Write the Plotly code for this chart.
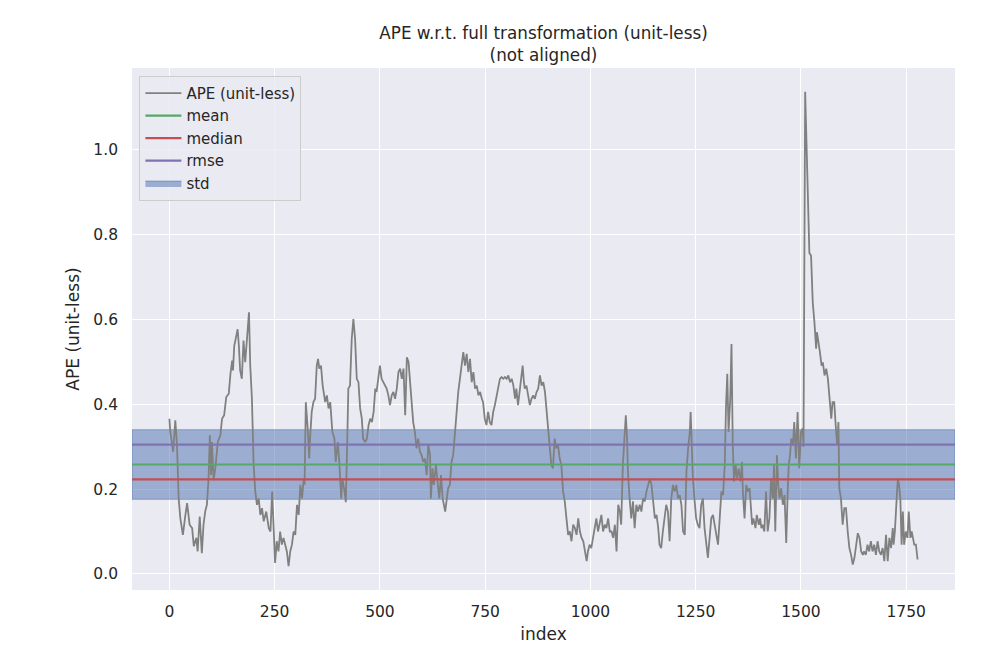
import plotly.graph_objects as go

# APE values (index, value)
index_pts = [
    0, 2, 9, 14, 18, 22, 26, 32, 38, 42, 48, 54, 58, 64, 67, 72, 77, 81, 85, 89,
    93, 96, 99, 101, 105, 109, 115, 121, 125, 130, 135, 141, 145, 149, 151, 154, 159, 162, 165, 168,
    172, 176, 180, 184, 189, 192, 196, 200, 204, 208, 212, 216, 220, 224, 230, 236, 240, 244, 247, 251,
    255, 259, 263, 267, 271, 275, 279, 283, 287, 291, 295,
    299, 303, 307, 311, 315, 319, 321, 324, 329, 332, 334, 338, 342, 346, 350, 353, 356, 360, 364, 367,
    370, 374, 378, 382, 384, 387, 392, 395, 400, 403, 408, 411, 416, 419, 422, 425, 429, 433, 437, 441,
    445, 449, 453, 457, 460, 465, 469, 473, 477, 481, 485, 489, 492, 496, 500, 504, 508, 512, 516, 520,
    524, 528, 532, 536, 540, 544, 548, 552, 556, 560, 564, 568, 572, 576, 579, 583, 587, 591, 595, 599,
    603, 607, 611, 615,
    619, 621, 625, 628, 633, 636, 641, 645, 649, 655, 658, 662, 666, 670, 674, 678, 682, 686, 690, 694,
    698, 702, 706, 710, 714, 718, 722, 726, 730, 734, 738, 742, 745, 749, 753, 757, 761, 765, 769, 773,
    777, 781, 785, 789, 793, 797, 801, 805, 809, 813, 817, 821, 824, 828, 832, 836, 839, 842, 844, 848,
    852, 856, 860, 864, 868, 872, 876, 880, 884, 888, 892, 896, 900, 903, 907, 911, 915, 919, 923, 927,
    931, 935,
    939, 943, 947, 951, 955, 959, 963, 967, 971, 975, 979, 983, 987, 991, 994, 998, 1002, 1006, 1010, 1014,
    1018, 1022, 1026, 1030, 1034, 1038, 1042, 1046, 1050, 1054, 1058, 1062, 1066, 1070, 1073, 1077, 1081, 1084, 1087, 1089,
    1093, 1097, 1101, 1105, 1109, 1113, 1117, 1121, 1125, 1129, 1133, 1137, 1141, 1145, 1149, 1153, 1157, 1161, 1164, 1168,
    1172, 1176, 1180, 1184, 1188, 1192, 1196, 1200, 1204, 1208, 1212, 1216, 1220, 1224, 1228, 1232, 1236, 1238, 1241, 1243,
    1247, 1251, 1255, 1259, 1263, 1267,
    1271, 1275, 1279, 1283, 1287, 1291, 1295, 1299, 1303, 1307, 1311, 1315, 1319, 1322, 1325, 1328, 1332, 1335, 1338, 1341,
    1345, 1348, 1352, 1356, 1360, 1362, 1366, 1370, 1374, 1378, 1382, 1384, 1387, 1392, 1395, 1400, 1403, 1406, 1409, 1413,
    1417, 1421, 1425, 1429, 1433, 1436, 1439, 1443, 1446, 1449, 1453, 1457, 1461, 1465, 1469, 1471, 1474, 1477, 1481, 1484,
    1488, 1492, 1496, 1500, 1504, 1506, 1510, 1520, 1524, 1528, 1532, 1536, 1538, 1542, 1545, 1549, 1552, 1556, 1560, 1564,
    1568, 1572, 1575,
    1579, 1583, 1586, 1589, 1591, 1595, 1599, 1603, 1607, 1611, 1615, 1619, 1623, 1627, 1631, 1635, 1639, 1643, 1647, 1650,
    1654, 1658, 1662, 1666, 1670, 1674, 1678, 1682, 1686, 1690, 1694, 1698, 1702, 1706, 1710, 1714, 1718, 1720, 1723, 1726,
    1730, 1733, 1736, 1739, 1742, 1745, 1749, 1753, 1756, 1760, 1763, 1766, 1769, 1773, 1777,
]
ape_vals = [
    0.366, 0.335, 0.288, 0.362, 0.304, 0.178, 0.131, 0.092, 0.139, 0.167, 0.116, 0.108, 0.065, 0.085, 0.053, 0.135, 0.049, 0.116, 0.147, 0.163,
    0.225, 0.327, 0.233, 0.311, 0.221, 0.249, 0.311, 0.327, 0.366, 0.374, 0.417, 0.425, 0.472, 0.503, 0.480, 0.538, 0.562, 0.577, 0.538, 0.480,
    0.460, 0.550, 0.499, 0.546, 0.617, 0.491, 0.413, 0.257, 0.194, 0.163, 0.178, 0.139, 0.155, 0.124, 0.147, 0.108, 0.100, 0.194, 0.108, 0.026,
    0.077, 0.053, 0.100, 0.069, 0.085, 0.069, 0.053, 0.018, 0.053, 0.069, 0.100,
    0.092, 0.163, 0.139, 0.210, 0.178, 0.225, 0.210, 0.405, 0.335, 0.272, 0.319, 0.382, 0.405, 0.413, 0.491, 0.507, 0.484, 0.491, 0.444, 0.429,
    0.405, 0.421, 0.390, 0.405, 0.382, 0.335, 0.319, 0.264, 0.311, 0.272, 0.178, 0.225, 0.194, 0.169, 0.296, 0.437, 0.444, 0.554, 0.601, 0.554,
    0.460, 0.452, 0.390, 0.366, 0.319, 0.311, 0.319, 0.351, 0.366, 0.358, 0.382, 0.437, 0.429, 0.468, 0.491, 0.460, 0.452, 0.444, 0.437, 0.421,
    0.398, 0.421, 0.429, 0.413, 0.437, 0.476, 0.484, 0.460, 0.484, 0.374, 0.511, 0.499, 0.444, 0.398, 0.358, 0.335, 0.296, 0.319, 0.288, 0.280,
    0.264, 0.272, 0.233, 0.304,
    0.280, 0.178, 0.249, 0.210, 0.257, 0.225, 0.178, 0.233, 0.178, 0.147, 0.178, 0.202, 0.210, 0.264, 0.280, 0.335, 0.390, 0.429, 0.460, 0.499,
    0.523, 0.491, 0.519, 0.476, 0.507, 0.452, 0.476, 0.437, 0.444, 0.421, 0.429, 0.413, 0.405, 0.366, 0.351, 0.382, 0.358, 0.351, 0.382, 0.398,
    0.421, 0.437, 0.460, 0.464, 0.460, 0.464, 0.460, 0.468, 0.452, 0.460, 0.444, 0.413, 0.437, 0.398, 0.429, 0.460, 0.491, 0.452, 0.437, 0.444,
    0.421, 0.398, 0.413, 0.421, 0.413, 0.429, 0.437, 0.468, 0.444, 0.452, 0.429, 0.382, 0.351, 0.319, 0.257, 0.249, 0.319, 0.296, 0.304, 0.272,
    0.257, 0.194,
    0.171, 0.131, 0.092, 0.100, 0.077, 0.116, 0.108, 0.092, 0.131, 0.100, 0.085, 0.077, 0.053, 0.030, 0.053, 0.069, 0.061, 0.085, 0.108, 0.131,
    0.100, 0.116, 0.139, 0.100, 0.116, 0.108, 0.131, 0.100, 0.100, 0.085, 0.116, 0.053, 0.163, 0.147, 0.116, 0.257, 0.319, 0.374, 0.319, 0.241,
    0.178, 0.131, 0.171, 0.108, 0.163, 0.147, 0.163, 0.147, 0.178, 0.171, 0.194, 0.210, 0.225, 0.210, 0.171, 0.131, 0.139, 0.108, 0.069, 0.061,
    0.100, 0.139, 0.163, 0.147, 0.077, 0.178, 0.210, 0.194, 0.210, 0.178, 0.186, 0.163, 0.100, 0.092, 0.241, 0.296, 0.335, 0.382, 0.304, 0.233,
    0.178, 0.131, 0.116, 0.108, 0.163, 0.178,
    0.108, 0.069, 0.038, 0.085, 0.131, 0.139, 0.116, 0.085, 0.069, 0.131, 0.194, 0.186, 0.257, 0.397, 0.472, 0.335, 0.413, 0.542, 0.304, 0.218,
    0.257, 0.225, 0.249, 0.218, 0.264, 0.194, 0.131, 0.210, 0.194, 0.202, 0.147, 0.116, 0.131, 0.108, 0.139, 0.116, 0.131, 0.108, 0.116, 0.100,
    0.194, 0.100, 0.131, 0.225, 0.178, 0.257, 0.100, 0.280, 0.210, 0.178, 0.202, 0.163, 0.186, 0.073, 0.210, 0.257, 0.280, 0.319, 0.304, 0.358,
    0.272, 0.382, 0.249, 0.335, 0.343, 0.300, 1.137, 0.757, 0.750, 0.640, 0.593, 0.531, 0.570, 0.546, 0.523, 0.491, 0.499, 0.468, 0.484, 0.460,
    0.413, 0.366, 0.405,
    0.405, 0.343, 0.304, 0.358, 0.202, 0.178, 0.116, 0.155, 0.155, 0.100, 0.061, 0.045, 0.022, 0.038, 0.069, 0.096, 0.085, 0.053, 0.045, 0.053,
    0.045, 0.069, 0.053, 0.077, 0.053, 0.069, 0.045, 0.077, 0.053, 0.045, 0.061, 0.030, 0.092, 0.030, 0.085, 0.061, 0.108, 0.069, 0.100, 0.147,
    0.225, 0.210, 0.178, 0.069, 0.147, 0.069, 0.100, 0.085, 0.147, 0.085, 0.100, 0.085, 0.069, 0.069, 0.034,
]

# statistics
mean_val = 0.258
median_val = 0.223
rmse_val = 0.305
std_val = 0.082

x_ticks = [0, 250, 500, 750, 1000, 1250, 1500, 1750]
y_ticks = [0.0, 0.2, 0.4, 0.6, 0.8, 1.0]

title_text = "APE w.r.t. full transformation (unit-less)<br>(not aligned)"
x_label = "index"
y_label = "APE (unit-less)"

# matplotlib-like 5% autoscale margins
xmin, xmax = min(index_pts), max(index_pts)
xpad = 0.05 * (xmax - xmin)
x_lo, x_hi = xmin - xpad, xmax + xpad
ymin, ymax = min(ape_vals), max(ape_vals)
ypad = 0.05 * (ymax - ymin)
y_lo, y_hi = ymin - ypad, ymax + ypad

FONT = "DejaVu Sans"
TXT = "#262626"
W, H = 988, 662

fig = go.Figure()

# std band
fig.add_trace(go.Scatter(
    x=[x_lo, x_hi, x_hi, x_lo, x_lo],
    y=[mean_val - std_val, mean_val - std_val, mean_val + std_val, mean_val + std_val, mean_val - std_val],
    mode="lines", fill="toself", fillcolor="rgba(76,114,176,0.5)",
    line=dict(color="rgba(76,114,176,0.55)", width=1),
    name="std", legendrank=5, hoverinfo="skip",
))

fig.add_trace(go.Scatter(
    x=index_pts, y=ape_vals, mode="lines",
    line=dict(color="#808080", width=1.8),
    name="APE (unit-less)", legendrank=1,
))

for val, nm, col, rk in [(mean_val, "mean", "#55A868", 2),
                         (median_val, "median", "#C44E52", 3),
                         (rmse_val, "rmse", "#8172B2", 4)]:
    fig.add_trace(go.Scatter(
        x=[x_lo, x_hi], y=[val, val], mode="lines",
        line=dict(color=col, width=2.2), name=nm, legendrank=rk,
    ))

fig.update_layout(
    width=W, height=H,
    margin=dict(l=124, r=41, t=60, b=80),
    paper_bgcolor="white", plot_bgcolor="#EAEAF2",
    font=dict(family=FONT, color=TXT, size=15),
    title=dict(text=title_text, x=0.5, xref="paper", xanchor="center",
               y=1 - 31 / H, yref="container", yanchor="top",
               font=dict(size=16.8, color=TXT, family=FONT)),
    showlegend=True,
    legend=dict(x=0.009, y=0.985, xanchor="left", yanchor="top",
                bgcolor="rgba(234,234,242,0.8)", bordercolor="#CCCCCC", borderwidth=1,
                font=dict(size=15, color=TXT, family=FONT),
                tracegroupgap=0, itemwidth=36),
)

fig.update_xaxes(range=[x_lo, x_hi], tickvals=x_ticks, showgrid=True, gridcolor="white",
                 gridwidth=1.2, zeroline=False, showline=False, ticks="", ticklabelstandoff=10,
                 tickfont=dict(size=15.5, color=TXT),
                 title=dict(text=x_label, font=dict(size=17, color=TXT), standoff=8))
fig.update_yaxes(range=[y_lo, y_hi], tickvals=y_ticks, tickformat=".1f", showgrid=True, gridcolor="white",
                 gridwidth=1.2, zeroline=False, showline=False, ticks="", ticklabelstandoff=13,
                 tickfont=dict(size=15.5, color=TXT),
                 title=dict(text=y_label, font=dict(size=17, color=TXT), standoff=9))

fig.write_html("out.html")
